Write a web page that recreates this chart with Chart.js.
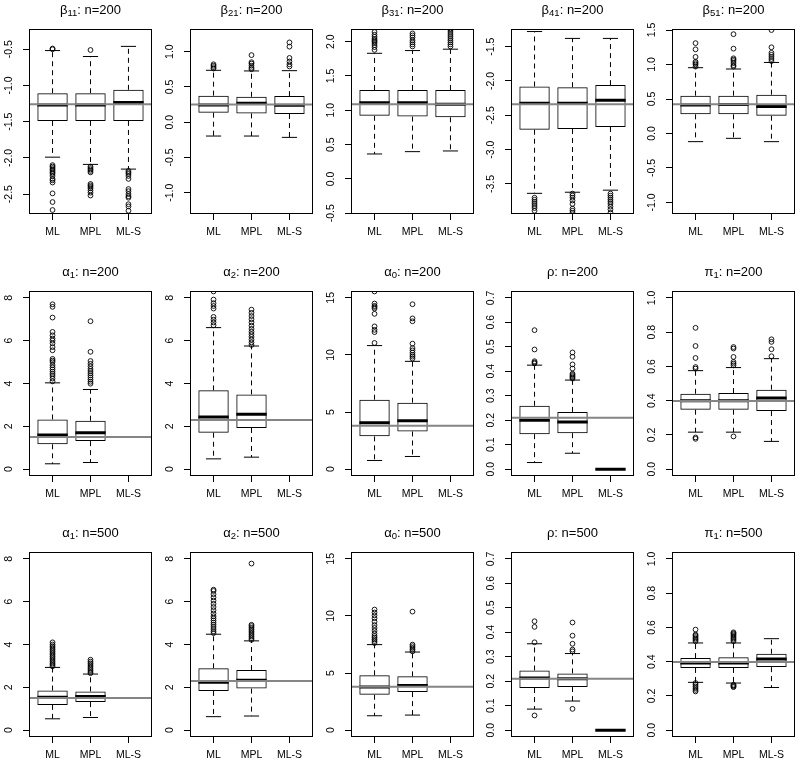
<!DOCTYPE html>
<html><head><meta charset="utf-8">
<script src="https://cdn.jsdelivr.net/npm/chart.js@4.4.1/dist/chart.umd.min.js"></script>
<style>
html,body{margin:0;padding:0;background:#fff;}
#wrap{position:relative;width:800px;height:766px;overflow:hidden;background:#fff;}
#wrap canvas{position:absolute;}
</style></head><body><div id="wrap"></div>
<script>
// ---------- data ----------
const methods = ["ML", "MPL", "ML-S"];
const panelParam = ["β","β","β","β","β","α","α","α","ρ","π","α","α","α","ρ","π"];
const panelSub   = ["11","21","31","41","51","1","2","0","","1","1","2","0","","1"];
const panelN     = [200,200,200,200,200,200,200,200,200,200,500,500,500,500,500];

const trueValue = [-1.26, 0.25, 1.087, -2.34, 0.423, 1.5, 2.3, 3.8, 0.21, 0.398, 1.5, 2.3, 3.8, 0.21, 0.398];

const yMin = [-2.775, -1.30, -0.51, -3.937, -1.167, -0.32, -0.32, -0.6, -0.028, -0.04, -0.32, -0.32, -0.6, -0.028, -0.04];
const yMax = [-0.22, 1.32, 2.184, -1.243, 1.515, 8.32, 8.32, 15.6, 0.728, 1.04, 8.32, 8.32, 15.6, 0.728, 1.04];

const yTickLabels = [
  ["-2.5","-2.0","-1.5","-1.0","-0.5"],
  ["-1.0","-0.5","0.0","0.5","1.0"],
  ["-0.5","0.0","0.5","1.0","1.5","2.0"],
  ["-3.5","-3.0","-2.5","-2.0","-1.5"],
  ["-1.0","-0.5","0.0","0.5","1.0","1.5"],
  ["0","2","4","6","8"],
  ["0","2","4","6","8"],
  ["0","5","10","15"],
  ["0.0","0.1","0.2","0.3","0.4","0.5","0.6","0.7"],
  ["0.0","0.2","0.4","0.6","0.8","1.0"],
  ["0","2","4","6","8"],
  ["0","2","4","6","8"],
  ["0","5","10","15"],
  ["0.0","0.1","0.2","0.3","0.4","0.5","0.6","0.7"],
  ["0.0","0.2","0.4","0.6","0.8","1.0"]
];

// box statistics per panel: [ML, MPL, ML-S]
const lowerWhisker = [
  [-1.99, -2.09, -2.155], [-0.196, -0.196, -0.215], [0.364, 0.398, 0.408], [-3.636, -3.62, -3.59], [-0.118, -0.07, -0.118],
  [0.25, 0.31, null], [0.48, 0.56, null], [0.76, 1.11, null], [0.027, 0.065, 0], [0.216, 0.216, 0.162],
  [0.53, 0.59, null], [0.63, 0.66, null], [1.26, 1.32, null], [0.086, 0.119, 0], [0.279, 0.275, 0.249]
];
const lowerQuartile = [
  [-1.49, -1.49, -1.49], [0.135, 0.125, 0.116], [0.92, 0.908, 0.898], [-2.71, -2.70, -2.67], [0.278, 0.278, 0.258],
  [1.16, 1.31, null], [1.70, 1.92, null], [2.87, 3.30, null], [0.143, 0.147, 0], [0.347, 0.347, 0.339],
  [1.18, 1.31, null], [1.83, 1.94, null], [3.10, 3.33, null], [0.172, 0.176, 0], [0.363, 0.363, 0.368]
];
const median = [
  [-1.268, -1.268, -1.235], [0.243, 0.27, 0.24], [1.11, 1.11, 1.09], [-2.325, -2.325, -2.28], [0.413, 0.42, 0.39],
  [1.59, 1.70, null], [2.43, 2.56, null], [4.06, 4.24, null], [0.20, 0.193, 0], [0.40, 0.40, 0.415],
  [1.54, 1.57, null], [2.24, 2.33, null], [3.77, 3.92, null], [0.213, 0.21, 0], [0.392, 0.392, 0.415]
];
const upperQuartile = [
  [-1.107, -1.107, -1.06], [0.376, 0.36, 0.37], [1.296, 1.296, 1.296], [-2.08, -2.09, -2.06], [0.548, 0.548, 0.563],
  [2.32, 2.26, null], [3.68, 3.49, null], [6.08, 5.82, null], [0.259, 0.234, 0], [0.44, 0.444, 0.464],
  [1.85, 1.81, null], [2.89, 2.81, null], [4.80, 4.71, null], [0.244, 0.232, 0], [0.421, 0.425, 0.446]
];
const upperWhisker = [
  [-0.518, -0.60, -0.46], [0.735, 0.726, 0.73], [1.83, 1.87, 1.89], [-1.28, -1.38, -1.38], [0.954, 0.935, 1.03],
  [4.03, 3.72, null], [6.61, 5.75, null], [10.82, 9.44, null], [0.425, 0.364, 0], [0.575, 0.593, 0.645],
  [2.93, 2.62, null], [4.48, 4.17, null], [7.49, 6.84, null], [0.353, 0.313, 0], [0.509, 0.509, 0.534]
];
const outliers = [
  [[-0.49, -0.50, -2.10, -2.12, -2.14, -2.16, -2.18, -2.20, -2.22, -2.25, -2.29, -2.31, -2.34, -2.49, -2.61, -2.72],
   [-0.51, -2.12, -2.14, -2.16, -2.18, -2.20, -2.36, -2.38, -2.40, -2.42, -2.45, -2.48, -2.52],
   [-2.18, -2.20, -2.22, -2.25, -2.29, -2.43, -2.46, -2.50, -2.53, -2.55, -2.64, -2.67, -2.73]],
  [[0.76, 0.78, 0.80, 0.82], [0.75, 0.77, 0.80, 0.83, 0.85, 0.95], [0.79, 0.82, 0.86, 0.91, 1.07, 1.13]],
  [[1.88, 1.92, 1.95, 1.98, 2.00, 2.02, 2.04, 2.07, 2.10, 2.14],
   [1.93, 1.96, 1.99, 2.02, 2.06, 2.09, 2.12],
   [1.93, 1.96, 1.99, 2.02, 2.05, 2.08, 2.11, 2.14, 2.17, 2.19]],
  [[-3.70, -3.73, -3.76, -3.79, -3.82, -3.85, -3.89],
   [-3.64, -3.67, -3.70, -3.74, -3.79, -3.86, -3.89, -3.92],
   [-3.64, -3.67, -3.70, -3.73, -3.76, -3.79, -3.83, -3.87, -3.92]],
  [[0.97, 1.00, 1.02, 1.04, 1.11, 1.22, 1.31], [0.97, 0.99, 1.02, 1.05, 1.07, 1.09, 1.23, 1.44], [1.05, 1.08, 1.11, 1.14, 1.17, 1.25, 1.50]],
  [[4.10, 4.23, 4.35, 4.45, 4.55, 4.65, 4.75, 4.86, 5.00, 5.07, 5.15, 5.55, 5.70, 5.87, 6.00, 6.10, 6.25, 6.41, 7.08, 7.58, 7.70],
   [3.99, 4.08, 4.18, 4.28, 4.38, 4.48, 4.58, 4.68, 4.80, 4.92, 5.05, 5.48, 6.91], []],
  [[6.72, 6.85, 6.98, 7.11, 7.50, 7.62, 7.75, 7.92, 8.30],
   [5.80, 5.92, 6.05, 6.18, 6.30, 6.42, 6.55, 6.70, 6.85, 7.00, 7.15, 7.30, 7.45], []],
  [[11.05, 12.0, 12.2, 12.5, 13.6, 14.06, 14.2, 14.3, 14.5, 15.56],
   [9.68, 9.85, 10.0, 10.2, 10.4, 10.6, 10.99, 12.95, 13.2, 14.44], []],
  [[0.432, 0.436, 0.441, 0.489, 0.568], [0.37, 0.375, 0.38, 0.385, 0.39, 0.411, 0.428, 0.459, 0.477], []],
  [[0.177, 0.185, 0.587, 0.596, 0.649, 0.719, 0.825], [0.191, 0.606, 0.616, 0.626, 0.655, 0.704, 0.713], [0.659, 0.70, 0.743, 0.758]],
  [[2.98, 3.05, 3.12, 3.2, 3.28, 3.36, 3.44, 3.52, 3.6, 3.68, 3.76, 3.84, 3.92, 4.0, 4.1],
   [2.66, 2.72, 2.8, 2.88, 2.96, 3.04, 3.12, 3.2, 3.29], []],
  [[4.53, 4.62, 4.72, 4.82, 4.92, 5.02, 5.12, 5.22, 5.32, 5.45, 5.6, 5.75, 5.9, 6.05, 6.2, 6.35, 6.5, 6.56],
   [4.22, 4.3, 4.38, 4.46, 4.54, 4.62, 4.7, 4.78, 4.86, 4.92, 7.78], []],
  [[7.63, 7.8, 7.95, 8.1, 8.25, 8.45, 8.7, 8.95, 9.2, 9.5, 9.8, 10.05, 10.3, 10.56],
   [6.9, 7.05, 7.2, 7.35, 7.49, 10.38], []],
  [[0.060, 0.359, 0.422, 0.445], [0.087, 0.322, 0.329, 0.353, 0.386, 0.44], []],
  [[0.226, 0.235, 0.245, 0.255, 0.265, 0.275, 0.519, 0.527, 0.535, 0.543, 0.551, 0.558, 0.587],
   [0.251, 0.256, 0.261, 0.265, 0.519, 0.527, 0.535, 0.543, 0.551, 0.559, 0.565, 0.571], []]
];

// ---------- layout / style ----------
const colLeft = [29, 190, 351, 511, 672];
const rowTop = [29, 291, 552];
const PLOT_W = 123, PLOT_H = 185;
const AXIS_W = 30, TITLE_H = 29, AXIS_H = 31, CANVAS_W = 160;
const X_MIN = 0.38, X_MAX = 3.62;
const HALF_BOX = 0.4, HALF_STAPLE = 0.2;
const FONT = '"Liberation Sans", Arial, Helvetica, sans-serif';

Chart.defaults.font.family = FONT;
Chart.defaults.color = '#000';

const deco = {
  id: 'deco',
  afterDraw(chart, args, opts) {
    const p = opts.idx;
    const {ctx, chartArea: a} = chart;
    ctx.save();
    // frame
    ctx.strokeStyle = '#000'; ctx.lineWidth = 1;
    ctx.strokeRect(a.left + 0.5, a.top + 0.5, a.right - a.left - 1, a.bottom - a.top - 1);
    // y tick labels (rotated like R)
    const ys = chart.scales.y;
    ctx.fillStyle = '#000';
    ctx.font = '10.5px ' + FONT;
    ctx.textAlign = 'center'; ctx.textBaseline = 'middle';
    ys.ticks.forEach((t, i) => {
      const py = ys.getPixelForValue(t.value);
      ctx.save();
      ctx.translate(a.left - 20, py);
      ctx.rotate(-Math.PI / 2);
      ctx.fillText(yTickLabels[p][i], 0, 0);
      ctx.restore();
    });
    // title with subscript
    const parts = [
      {t: panelParam[p], f: 13, dy: 0},
      {t: panelSub[p], f: 9.5, dy: 3},
      {t: ': n=' + panelN[p], f: 13, dy: 0}
    ];
    let total = 0;
    parts.forEach(pt => { ctx.font = pt.f + 'px ' + FONT; pt.w = pt.t ? ctx.measureText(pt.t).width : 0; total += pt.w; });
    let x = (a.left + a.right) / 2 - total / 2;
    const y = a.top - 19;
    ctx.textAlign = 'left';
    parts.forEach(pt => { if (!pt.t) return; ctx.font = pt.f + 'px ' + FONT; ctx.fillText(pt.t, x, y + pt.dy); x += pt.w; });
    ctx.restore();
  }
};

const wrap = document.getElementById('wrap');
for (let p = 0; p < 15; p++) {
  const r = Math.floor(p / 5), c = p % 5;
  const cv = document.createElement('canvas');
  const H = TITLE_H + PLOT_H + AXIS_H;
  cv.width = CANVAS_W; cv.height = H;
  cv.style.width = CANVAS_W + 'px'; cv.style.height = H + 'px';
  cv.style.left = (colLeft[c] - AXIS_W) + 'px';
  cv.style.top = (rowTop[r] - TITLE_H) + 'px';
  wrap.appendChild(cv);

  const boxes = [], meds = [], whisk = [], staples = [], outs = [];
  for (let i = 0; i < 3; i++) {
    if (lowerQuartile[p][i] == null) continue;
    const xc = i + 1;
    boxes.push({x: xc, y: [lowerQuartile[p][i], upperQuartile[p][i]]});
    meds.push({x: xc - HALF_BOX, y: median[p][i]}, {x: xc + HALF_BOX, y: median[p][i]}, {x: xc + HALF_BOX, y: null});
    whisk.push({x: xc, y: upperQuartile[p][i]}, {x: xc, y: upperWhisker[p][i]}, {x: xc, y: null},
               {x: xc, y: lowerQuartile[p][i]}, {x: xc, y: lowerWhisker[p][i]}, {x: xc, y: null});
    staples.push({x: xc - HALF_STAPLE, y: upperWhisker[p][i]}, {x: xc + HALF_STAPLE, y: upperWhisker[p][i]}, {x: xc + HALF_STAPLE, y: null},
                 {x: xc - HALF_STAPLE, y: lowerWhisker[p][i]}, {x: xc + HALF_STAPLE, y: lowerWhisker[p][i]}, {x: xc + HALF_STAPLE, y: null});
    outliers[p][i].forEach(v => outs.push({x: xc, y: v}));
  }

  const lineBase = {type: 'line', pointRadius: 0, spanGaps: false, tension: 0, fill: false, borderColor: '#000'};
  const datasets = [
    {type: 'bar', data: boxes, backgroundColor: 'rgba(255,255,255,0)', borderColor: '#000', borderWidth: 1,
     borderSkipped: false, barPercentage: 0.8, categoryPercentage: 1, order: 6},
    Object.assign({}, lineBase, {data: whisk, borderWidth: 1, borderDash: [5, 4], order: 5}),
    Object.assign({}, lineBase, {data: staples, borderWidth: 1, order: 4}),
    Object.assign({}, lineBase, {data: meds, borderWidth: 3, order: 3}),
    {type: 'scatter', data: outs, pointRadius: 2.4, pointStyle: 'circle', pointBorderWidth: 0.9,
     pointBorderColor: '#000', pointBackgroundColor: 'rgba(0,0,0,0)', showLine: false, order: 2},
    Object.assign({}, lineBase, {data: [{x: X_MIN, y: trueValue[p]}, {x: X_MAX, y: trueValue[p]}],
      borderColor: '#858585', borderWidth: 2, order: 0})
  ];

  const tickVals = yTickLabels[p].map(Number);
  new Chart(cv, {
    type: 'bar',
    data: {datasets},
    options: {
      responsive: false, animation: false, events: [], devicePixelRatio: 1,
      layout: {padding: {top: TITLE_H, left: 0, right: CANVAS_W - AXIS_W - PLOT_W, bottom: 0}},
      plugins: {legend: {display: false}, tooltip: {enabled: false}, title: {display: false}, deco: {idx: p}},
      scales: {
        x: {
          type: 'linear', min: X_MIN, max: X_MAX, offset: false,
          afterBuildTicks: s => { s.ticks = [1, 2, 3].map(v => ({value: v})); },
          afterFit: s => { s.height = AXIS_H; },
          ticks: {callback: v => methods[Math.round(v) - 1], font: {size: 10.5}, color: '#000', padding: 6,
                  maxRotation: 0, minRotation: 0, autoSkip: false},
          grid: {display: true, offset: false, drawOnChartArea: false, drawTicks: true, tickLength: 6, color: '#000', lineWidth: 1},
          border: {display: false}
        },
        y: {
          type: 'linear', min: yMin[p], max: yMax[p],
          afterBuildTicks: s => { s.ticks = tickVals.map(v => ({value: v})); },
          afterFit: s => { s.width = AXIS_W; },
          ticks: {display: false},
          grid: {display: true, drawOnChartArea: false, drawTicks: true, tickLength: 6, color: '#000', lineWidth: 1},
          border: {display: false}
        }
      }
    },
    plugins: [deco]
  });
}
</script>
</body></html>
